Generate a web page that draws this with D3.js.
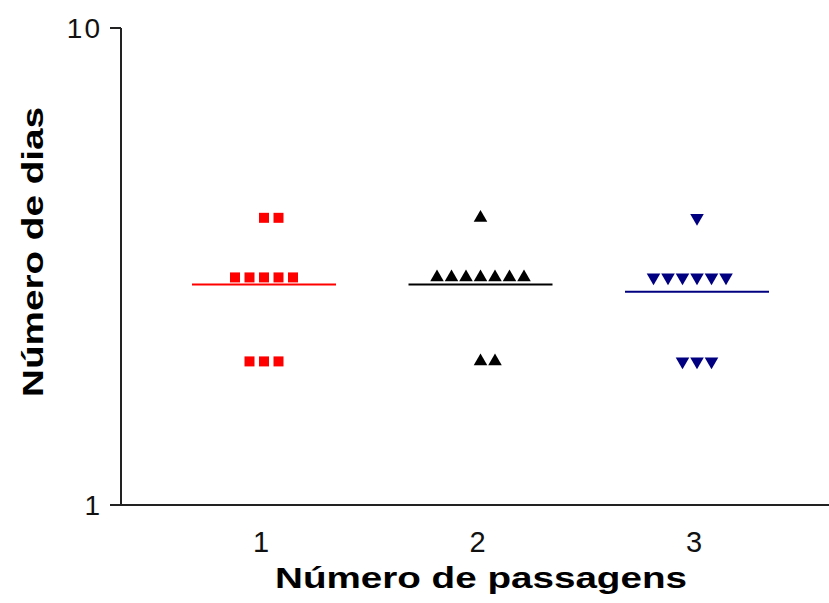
<!DOCTYPE html>
<html>
<head>
<meta charset="utf-8">
<script src="https://cdn.jsdelivr.net/npm/d3@7"></script>
<style>
  html, body { margin: 0; padding: 0; background: #fff; }
  svg { display: block; }
  text { font-family: "Liberation Sans", Arial, sans-serif; }
</style>
</head>
<body>
<svg id="chart" width="829" height="603"></svg>
<script>
// Passage groups on the x axis
const groups = [1, 2, 3];
const groupLabels = ["1", "2", "3"];

// Days recorded for each passage group
const daysP1 = [4, 4, 3, 3, 3, 3, 3, 2, 2, 2];
const daysP2 = [4, 3, 3, 3, 3, 3, 3, 3, 2, 2];
const daysP3 = [4, 3, 3, 3, 3, 3, 3, 2, 2, 2];

const yTicks = [1, 10];
const yTickLabels = ["1", "10"];

const xTitle = "Número de passagens";
const yTitle = "Número de dias";

const series = [
  { x: groups[0], values: daysP1, color: "#ff0000", symbol: "square" },
  { x: groups[1], values: daysP2, color: "#000000", symbol: "up" },
  { x: groups[2], values: daysP3, color: "#000080", symbol: "down" }
];

const svg = d3.select("#chart");

const axisLeft = 121, axisRight = 829, axisBottom = 505, axisTop = 28;

const x = d3.scaleLinear().domain([1, 3]).range([264, 697]);
const y = d3.scaleLog().domain([1, 10]).range([axisBottom, axisTop]);

// Axes lines
svg.append("line")
  .attr("x1", axisLeft).attr("x2", axisLeft)
  .attr("y1", axisTop).attr("y2", axisBottom)
  .attr("stroke", "#222").attr("stroke-width", 2);
svg.append("line")
  .attr("x1", axisLeft - 11).attr("x2", axisRight)
  .attr("y1", axisBottom).attr("y2", axisBottom)
  .attr("stroke", "#222").attr("stroke-width", 2);

// Y ticks and labels
yTicks.forEach((t, i) => {
  svg.append("line")
    .attr("x1", axisLeft - 11).attr("x2", axisLeft)
    .attr("y1", y(t)).attr("y2", y(t))
    .attr("stroke", "#222").attr("stroke-width", 2);
  svg.append("text")
    .attr("x", 102).attr("y", y(t) + 10)
    .attr("text-anchor", "end")
    .attr("font-size", 28)
    .attr("letter-spacing", 2)
    .attr("fill", "#111")
    .text(yTickLabels[i]);
});

// X tick labels
groups.forEach((g, i) => {
  svg.append("text")
    .attr("x", x(g) - 3).attr("y", 552)
    .attr("text-anchor", "middle")
    .attr("font-size", 29)
    .attr("fill", "#111")
    .text(groupLabels[i]);
});

// Axis titles
svg.append("text")
  .attr("x", 481).attr("y", 588)
  .attr("text-anchor", "middle")
  .attr("font-size", 30).attr("font-weight", "bold")
  .attr("textLength", 412).attr("lengthAdjust", "spacingAndGlyphs")
  .attr("fill", "#000")
  .text(xTitle);

svg.append("text")
  .attr("transform", "translate(43,252) rotate(-90)")
  .attr("text-anchor", "middle")
  .attr("font-size", 30).attr("font-weight", "bold")
  .attr("textLength", 290).attr("lengthAdjust", "spacingAndGlyphs")
  .attr("fill", "#000")
  .text(yTitle);

// Column scatter: identical values spread side by side
const step = 14.5;
function spread(values) {
  const counts = d3.rollup(values, v => v.length, d => d);
  const out = [];
  counts.forEach((n, v) => {
    const start = n > 4 ? -Math.floor(n / 2) : -Math.floor((n - 1) / 2);
    for (let i = 0; i < n; i++) out.push({ v, k: start + i });
  });
  return out;
}

const symSquare = d3.symbol().type(d3.symbolSquare).size(100);
const symTri = d3.symbol().type(d3.symbolTriangle).size(80);

series.forEach(s => {
  const pts = spread(s.values);
  const g = svg.append("g");
  g.selectAll("path").data(pts).join("path")
    .attr("d", s.symbol === "square" ? symSquare() : symTri())
    .attr("transform", d => {
      const px = x(s.x) + d.k * step;
      const py = y(d.v);
      return s.symbol === "down"
        ? `translate(${px},${py}) rotate(180)`
        : `translate(${px},${py})`;
    })
    .attr("fill", s.color);

  // Mean line
  const m = d3.mean(s.values);
  svg.append("line")
    .attr("x1", x(s.x) - 72).attr("x2", x(s.x) + 72)
    .attr("y1", y(m)).attr("y2", y(m))
    .attr("stroke", s.color).attr("stroke-width", 2);
});
</script>
</body>
</html>
